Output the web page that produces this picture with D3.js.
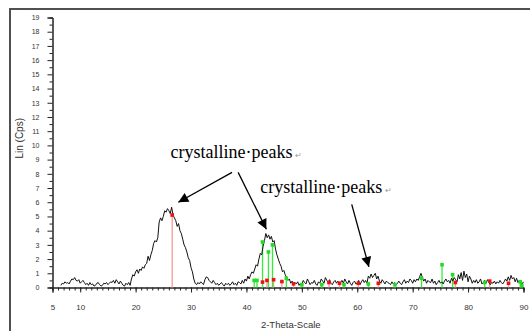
<!DOCTYPE html>
<html>
<head>
<meta charset="utf-8">
<script src="https://cdn.jsdelivr.net/npm/d3@7"></script>
<style>
  html, body { margin: 0; padding: 0; background: #fff; }
  svg { display: block; }
</style>
</head>
<body>
<div id="chart"></div>
<script>
// scan: intensity every 0.25 deg from 6.5 to 90
const thetaStart = 6.5;
const thetaStep = 0.25;
const counts = [
  0.15,0.3,0.25,0.4,0.3,0.35,0.25,0.45,0.6,0.55,0.7,0.5,0.45,0.55,0.3,0.4,0.5,0.35,0.2,0.3,
  0.15,0.35,0.2,0.25,0.1,0.15,0.3,0.35,0.2,0.1,0.15,0.3,0.25,0.35,0.2,0.3,0.4,0.35,0.5,0.3,
  0.55,0.4,0.25,0.45,0.3,0.15,0.1,0.3,0.2,0.35,0.15,0.6,0.9,0.8,1.1,1.25,1.0,1.3,1.2,1.45,
  1.35,1.6,1.7,2.2,1.9,2.3,2.6,3.1,3.3,3.2,3.5,4.6,4.9,4.7,5.0,5.4,5.3,5.55,5.4,5.2,
  5.65,5.1,4.9,4.7,4.3,4.5,4.0,3.8,3.4,3.0,2.8,2.5,2.1,1.9,1.4,1.1,0.6,0.3,0.2,0.35,
  0.25,0.4,0.3,0.2,0.55,0.75,0.7,0.5,0.4,0.3,0.5,0.35,0.2,0.3,0.15,0.25,0.35,0.2,0.1,0.3,
  0.2,0.3,0.15,0.25,0.4,0.2,0.3,0.15,0.4,0.35,0.25,0.5,0.3,0.6,0.45,0.8,0.6,0.9,1.1,1.0,
  1.3,1.6,1.5,2.0,2.4,2.3,2.9,3.3,3.8,3.5,3.7,3.4,3.6,3.2,3.3,2.7,2.3,2.0,1.7,1.5,
  1.1,1.2,0.9,0.7,0.5,0.6,0.3,0.45,0.2,0.35,0.25,0.4,0.15,0.3,0.2,0.5,0.35,0.25,0.6,0.4,
  0.2,0.35,0.3,0.5,0.25,0.15,0.4,0.3,0.6,0.45,0.3,0.7,0.5,0.35,0.55,0.3,0.2,0.4,0.5,0.3,
  0.45,0.2,0.35,0.5,0.3,0.6,0.4,0.25,0.5,0.3,0.15,0.35,0.45,0.25,0.3,0.5,0.2,0.4,0.55,0.35,
  0.5,0.3,0.8,0.65,0.95,0.7,0.85,1.0,0.6,0.8,0.45,0.3,0.55,0.4,0.25,0.45,0.35,0.3,0.2,0.4,
  0.25,0.35,0.2,0.3,0.45,0.3,0.2,0.4,0.55,0.3,0.45,0.35,0.6,0.5,0.3,0.55,0.4,0.6,0.5,0.75,
  1.0,0.7,0.45,0.6,0.3,0.5,0.4,0.35,0.6,0.3,0.45,0.2,0.35,0.5,0.3,0.4,0.25,0.45,0.6,0.4,
  0.5,0.3,0.65,0.45,0.7,0.55,0.4,0.9,0.6,1.05,0.5,1.15,0.7,0.95,0.4,0.8,0.6,0.3,0.5,0.35,
  0.55,0.3,0.4,0.6,0.25,0.35,0.5,0.3,0.55,0.4,0.2,0.35,0.3,0.45,0.25,0.4,0.3,0.5,0.35,0.25,
  0.4,0.6,0.45,0.75,0.5,0.85,0.6,0.7,0.4,0.65,0.35,0.5,0.3,0.25,0.4
];

// reference pattern sticks [2theta, height]
const redSticks = [
  [26.6,5.1],[42.9,0.38],[43.7,0.5],[44.9,0.55],[46.4,0.42],[48.5,0.26],[54.9,0.35],
  [56.8,0.3],[60.2,0.3],[63.8,0.3],[77.7,0.35],[83.9,0.45],[87.3,0.3]
];
const greenSticks = [
  [41.4,0.5],[41.9,0.5],[42.9,3.2],[43.97,2.5],[44.7,3.0],[47.2,0.65],[50.0,0.2],
  [53.6,0.2],[57.6,0.2],[62.0,0.25],[66.8,0.2],[71.6,0.65],[75.3,1.6],[77.2,0.9],
  [83.0,0.35],[89.4,0.4],[89.7,0.15]
];

const xTicks = [5, 10, 20, 30, 40, 50, 60, 70, 80, 90];
const yTicks = d3.range(0, 20);

// annotations, in data units
const labels = [
  { text: "crystalline\u00b7peaks", x: 26.3, y: 9.08 },
  { text: "crystalline\u00b7peaks", x: 42.5, y: 6.62 }
];
const arrows = [
  { from: [37.4, 8.1], to: [27.7, 6.0] },
  { from: [38.5, 8.1], to: [43.6, 4.1] },
  { from: [59.0, 5.85], to: [62.1, 1.45] }
];

const width = 530, height = 331;

const svg = d3.select("#chart").append("svg")
  .attr("width", width)
  .attr("height", height);

// frame (cut off at right / bottom)
svg.append("rect")
  .attr("x", 10).attr("y", 9)
  .attr("width", 600).attr("height", 400)
  .attr("fill", "none")
  .attr("stroke", "#505050")
  .attr("stroke-width", 2);

const x = d3.scaleLinear().domain([5, 90]).range([52.5, 523.5]);
const y = d3.scaleLinear().domain([0, 19]).range([287.5, 17.5]);

// x axis: minor ticks every degree, then labelled ticks
const gx = svg.append("g").attr("transform", `translate(0,${y(0)})`);
gx.call(d3.axisBottom(x).tickValues(d3.range(5, 91, 1)).tickSize(3).tickFormat(""));
gx.append("g").call(d3.axisBottom(x).tickValues(xTicks).tickSize(5).tickPadding(12));
gx.selectAll(".domain").attr("stroke", "#222");
gx.selectAll("line").attr("stroke", "#222");
gx.selectAll("text")
  .attr("font-family", "'Liberation Sans', Arial, sans-serif")
  .attr("font-size", "8px")
  .attr("fill", "#333");

const gy = svg.append("g").attr("transform", `translate(${x(5)},0)`);
gy.call(d3.axisLeft(y).tickValues(d3.range(0.5, 19, 1)).tickSize(3).tickFormat(""));
gy.append("g").call(d3.axisLeft(y).tickValues(yTicks).tickSize(5).tickPadding(8));
gy.selectAll(".domain").attr("stroke", "#222");
gy.selectAll("line").attr("stroke", "#222");
gy.selectAll("text")
  .attr("font-family", "'Liberation Sans', Arial, sans-serif")
  .attr("font-size", "7px")
  .attr("fill", "#333");

// axis titles
svg.append("text")
  .attr("transform", `translate(23,${y(10.5)}) rotate(-90)`)
  .attr("text-anchor", "middle")
  .attr("font-family", "'Liberation Sans', Arial, sans-serif")
  .attr("font-size", "10px")
  .attr("fill", "#333")
  .text("Lin (Cps)");

svg.append("text")
  .attr("x", x(48))
  .attr("y", 328)
  .attr("text-anchor", "middle")
  .attr("font-family", "'Liberation Sans', Arial, sans-serif")
  .attr("font-size", "9.5px")
  .attr("fill", "#333")
  .text("2-Theta-Scale");

// reference sticks
svg.selectAll("line.red-stick")
  .data(redSticks)
  .join("line")
  .attr("class", "red-stick")
  .attr("x1", d => x(d[0])).attr("x2", d => x(d[0]))
  .attr("y1", y(0)).attr("y2", d => y(d[1]))
  .attr("stroke", "#f59a9a")
  .attr("stroke-width", 1.3);

svg.selectAll("line.green-stick")
  .data(greenSticks)
  .join("line")
  .attr("class", "green-stick")
  .attr("x1", d => x(d[0])).attr("x2", d => x(d[0]))
  .attr("y1", y(0)).attr("y2", d => y(d[1]))
  .attr("stroke", "#33ee33")
  .attr("stroke-width", 1.3);

// scan curve
const line = d3.line()
  .x((d, i) => x(thetaStart + i * thetaStep))
  .y(d => y(d));

svg.append("path")
  .datum(counts)
  .attr("d", line)
  .attr("fill", "none")
  .attr("stroke", "#111")
  .attr("stroke-width", 1);

// stick markers on top
svg.selectAll("rect.red-mark")
  .data(redSticks)
  .join("rect")
  .attr("class", "red-mark")
  .attr("x", d => x(d[0]) - 1.8).attr("y", d => y(d[1]) - 1.8)
  .attr("width", 3.6).attr("height", 3.6)
  .attr("fill", "#ee1111");

svg.selectAll("rect.green-mark")
  .data(greenSticks)
  .join("rect")
  .attr("class", "green-mark")
  .attr("x", d => x(d[0]) - 1.8).attr("y", d => y(d[1]) - 1.8)
  .attr("width", 3.6).attr("height", 3.6)
  .attr("fill", "#22dd22");

// annotations
const ann = svg.selectAll("g.ann")
  .data(labels)
  .join("g")
  .attr("class", "ann");

ann.append("text")
  .attr("x", d => x(d.x))
  .attr("y", d => y(d.y))
  .attr("font-family", "'Liberation Serif', 'Times New Roman', serif")
  .attr("font-size", "18px")
  .attr("fill", "#000")
  .text(d => d.text)
  .append("tspan")
  .attr("dx", 3)
  .attr("font-size", "8px")
  .attr("fill", "#999")
  .text("\u21b5");

svg.append("defs").append("marker")
  .attr("id", "head")
  .attr("viewBox", "0 0 10 10")
  .attr("refX", 10).attr("refY", 5)
  .attr("markerUnits", "userSpaceOnUse")
  .attr("markerWidth", 12).attr("markerHeight", 10)
  .attr("orient", "auto")
  .append("path")
  .attr("d", "M0,0 L10,5 L0,10 Z")
  .attr("fill", "#000");

svg.selectAll("line.arrow")
  .data(arrows)
  .join("line")
  .attr("class", "arrow")
  .attr("x1", d => x(d.from[0])).attr("y1", d => y(d.from[1]))
  .attr("x2", d => x(d.to[0])).attr("y2", d => y(d.to[1]))
  .attr("stroke", "#000")
  .attr("stroke-width", 1.3)
  .attr("marker-end", "url(#head)");
</script>
</body>
</html>
